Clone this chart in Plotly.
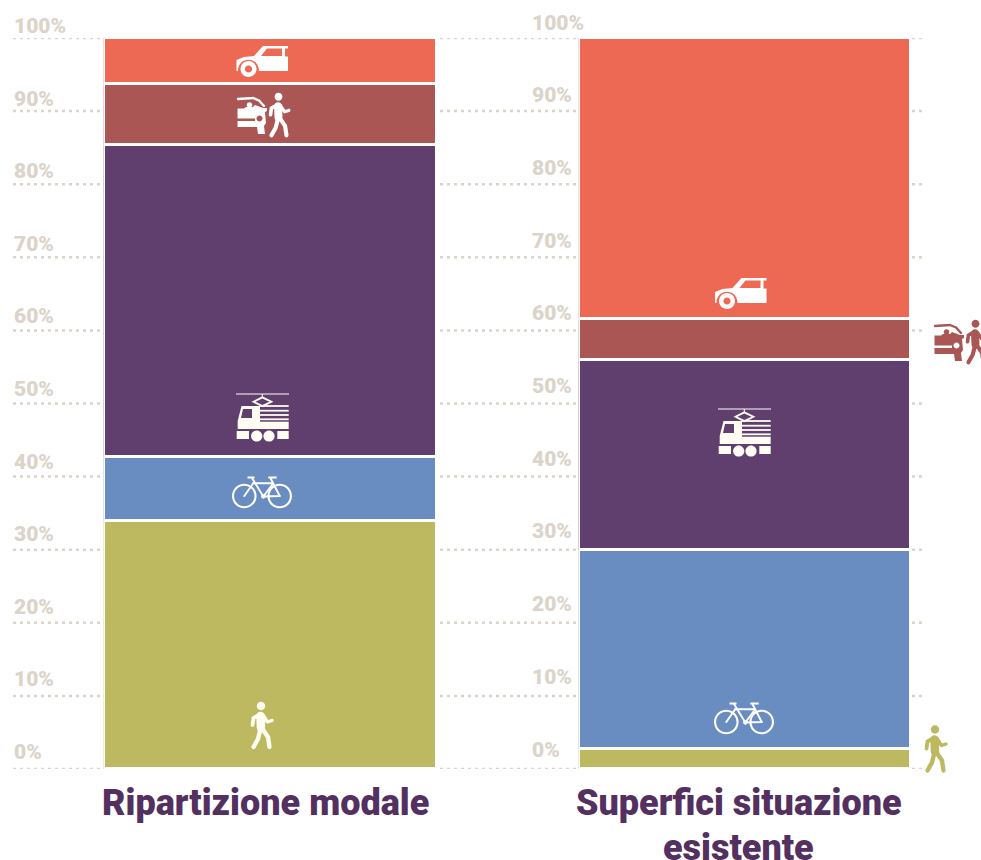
import math
import plotly.graph_objects as go

# ---------- data ----------
CHARTS = ["Ripartizione modale", "Superfici situazione esistente"]
TITLE_LINES = [["Ripartizione modale"], ["Superfici situazione", "esistente"]]
MODES = ["A piedi", "Bicicletta", "Trasporto pubblico", "Auto + a piedi", "Auto"]
RIPARTIZIONE = [33.9, 8.8, 42.7, 8.3, 6.3]
SUPERFICI = [2.8, 27.1, 26.1, 5.6, 38.4]
COLORS = ["#bcb961", "#698dc0", "#603f6f", "#aa5655", "#ee6953"]
TICKS = list(range(0, 101, 10))
TICK_LABELS = [f"{t}%" for t in TICKS]

# ---------- layout constants ----------
W, H = 981, 860
GRID = "#dbd4ca"
TITLE = "#53305f"
Y0, Y100 = 769.0, 38.0


def px(x):
    return x / W


def py(y):
    return 1 - y / H


fig = go.Figure()
for i, m in enumerate(MODES):
    fig.add_bar(x=[CHARTS[0]], y=[RIPARTIZIONE[i]], name=m, xaxis="x", yaxis="y",
                marker=dict(color=COLORS[i], line=dict(color="white", width=3)))
    fig.add_bar(x=[CHARTS[1]], y=[SUPERFICI[i]], name=m, xaxis="x2", yaxis="y2",
                marker=dict(color=COLORS[i], line=dict(color="white", width=3)))

shapes = []
annotations = []
for t, lab in zip(TICKS, TICK_LABELS):
    for a, b in [(13, 103), (440, 578), (912, 925)]:
        shapes.append(dict(type="line", xref="paper", yref="y", x0=px(a), x1=px(b), y0=t, y1=t,
                           layer="below", line=dict(color=GRID, width=2.5, dash="3px,4px")))
    k = t / 10
    for x, y in [(12, 752 - k * 72.6), (530, 749.5 - k * 72.7)]:
        annotations.append(dict(text=lab, xref="paper", yref="paper", x=px(x), y=py(y),
                                xanchor="left", yanchor="middle", showarrow=False,
                                font=dict(family="Roboto", size=21, color=GRID, weight=900)))

for cx, lines in zip((265, 738.5), TITLE_LINES):
    for j, line in enumerate(lines):
        annotations.append(dict(text=line, xref="paper", yref="paper", x=px(cx), y=py(803 + 45 * j),
                                xanchor="center", yanchor="middle", showarrow=False,
                                font=dict(family="Roboto", size=36, color=TITLE, weight=900)))


# ---------- icon geometry (decorative pictograms, local pixel units) ----------
def circle(cx, cy, r):
    c = 0.5523 * r
    return [("M", cx + r, cy), ("C", cx + r, cy + c, cx + c, cy + r, cx, cy + r),
            ("C", cx - c, cy + r, cx - r, cy + c, cx - r, cy),
            ("C", cx - r, cy - c, cx - c, cy - r, cx, cy - r),
            ("C", cx + c, cy - r, cx + r, cy - c, cx + r, cy), ("Z",)]


def poly(*pts):
    return [("M", *pts[0])] + [("L", *p) for p in pts[1:]] + [("Z",)]


def rect(x0, y0, x1, y1):
    return poly((x0, y0), (x0, y1), (x1, y1), (x1, y0))


def stroke(pts, w):
    out = []
    r = w / 2
    for (a, b), (c, d) in zip(pts[:-1], pts[1:]):
        L = math.hypot(c - a, d - b) or 1
        nx, ny = -(d - b) / L * r, (c - a) / L * r
        out += poly((a - nx, b - ny), (c - nx, d - ny), (c + nx, d + ny), (a + nx, b + ny))
    for p in pts:
        out += circle(p[0], p[1], r)
    return out


def to_path(cmds, ox, oy, s=1.0):
    parts = []
    for c in cmds:
        if c[0] == "Z":
            parts.append("Z")
        else:
            v = c[1:]
            xy = []
            for j in range(0, len(v), 2):
                xy.append(f"{px(ox + v[j] * s):.5f},{py(oy + v[j + 1] * s):.5f}")
            parts.append(c[0] + " " + " ".join(xy))
    return " ".join(parts)


def add(cmds, ox, oy, color, rule="evenodd", s=1.0):
    shapes.append(dict(type="path", xref="paper", yref="paper", path=to_path(cmds, ox, oy, s),
                       fillcolor=color, fillrule=rule, line=dict(width=0), layer="above"))


def car(ox, oy, color):
    body = [("M", 0.5, 15), ("L", 8, 12), ("L", 18, 11), ("L", 27, 1), ("L", 52, 1), ("L", 52, 3.5),
            ("L", 49, 3.5), ("L", 49, 11.5), ("L", 52, 11.5), ("L", 52, 26), ("L", 23, 26),
            ("C", 23, 11, 2, 11, 2, 26), ("L", 0.5, 26), ("Z",)]
    body += poly((25, 11), (31, 3.5), (46, 3.5), (46, 11))
    add(body, ox, oy, color)
    add(circle(12.5, 24, 8) + circle(12.5, 24, 3.6), ox, oy, color)


def walker(ox, oy, color, s=1.0):
    add(circle(0, 0, 4.2), ox, oy, color, s=s)
    add(stroke([(-0.5, 10), (0, 22)], 8.5), ox, oy, color, "nonzero", s)
    add(stroke([(-2, 9), (-7.5, 12), (-8.5, 19)], 3.8), ox, oy, color, "nonzero", s)
    add(stroke([(2, 9), (6.5, 16), (11, 14.5)], 3.4), ox, oy, color, "nonzero", s)
    add(stroke([(-0.5, 23), (-3, 33), (-7.5, 41)], 4.4), ox, oy, color, "nonzero", s)
    add(stroke([(1.5, 23), (7, 31), (8.5, 41)], 4.4), ox, oy, color, "nonzero", s)


def car_walk(ox, oy, color):
    add(stroke([(1, 6), (16, 5), (22, 7.5), (27, 13)], 2.4), ox, oy, color, "nonzero")
    add(circle(12.5, 12, 2.8), ox, oy, color)
    top = [("M", 0.5, 15.5), ("L", 7, 15.5), ("L", 9, 14), ("L", 16, 14), ("L", 18, 12), ("L", 26, 15),
           ("L", 30, 15), ("L", 30, 18), ("L", 28, 19), ("L", 29, 30), ("L", 27, 33), ("L", 28, 41),
           ("L", 21, 41), ("L", 20, 34), ("L", 0.5, 34), ("L", 0.5, 28), ("L", 18, 28), ("L", 18, 25.5),
           ("L", 0.5, 25.5), ("Z",)]
    top += circle(22.5, 25.5, 3)
    add(top, ox, oy, color)
    walker(ox + 41.5, oy + 3.8, color, 0.94)


def train(ox, oy, color):
    add(rect(0, 0.5, 53, 1.5), ox, oy, color)
    add(rect(25.8, 1, 26.8, 4), ox, oy, color)
    add(poly((15.5, 8.7), (26.3, 3.2), (37.5, 8.7), (26.3, 14.2)) +
        poly((19.5, 8.7), (26.3, 5.4), (33.5, 8.7), (26.3, 12)), ox, oy, color)
    add(poly((5.5, 13), (24, 13), (24, 36), (1.7, 36), (1.7, 28)) +
        poly((7, 16), (16, 16), (16, 25), (5, 25)), ox, oy, color)
    for y in (13, 17.7, 22, 26.3):
        add(rect(24, y - 0.9, 52.7, y + 0.9), ox, oy, color)
    add(rect(24, 28.7, 52.7, 36), ox, oy, color)
    add(rect(0.7, 38, 13, 46), ox, oy, color)
    add(rect(41.3, 38, 52.7, 46), ox, oy, color)
    add(circle(20.7, 43, 5.6), ox, oy, color)
    add(circle(33, 43, 5.6), ox, oy, color)


def bike(ox, oy, color):
    for cx in (12.3, 47.7):
        add(circle(cx, 20.5, 12.3) + circle(cx, 20.5, 10.2), ox, oy, color)
    frame = [
        [(20.3, 3), (31.3, 21)], [(38.7, 3), (47.7, 20.5)], [(21.3, 7.8), (40.7, 7.8)],
        [(40.7, 8.5), (31.3, 21)], [(21, 8), (12.3, 20.5)], [(31.3, 21), (47.7, 20.5)],
    ]
    for seg in frame:
        add(stroke(seg, 1.9), ox, oy, color, "nonzero")
    add(circle(31.3, 21, 2.2), ox, oy, color)
    add(rect(15.5, 1, 22.5, 3), ox, oy, color)
    add(rect(36.3, 1, 44.7, 3), ox, oy, color)


WHITE = "#ffffff"
CREAM = "#fffdf2"
car(236, 45, WHITE)
car_walk(237, 93, WHITE)
train(236, 393, CREAM)
bike(232, 475.5, WHITE)
walker(261, 706, CREAM)

car(714.5, 277, WHITE)
car_walk(934, 320, COLORS[3])
train(718, 408, CREAM)
bike(714, 701.5, WHITE)
walker(935, 729.5, COLORS[0])

axis_y = dict(range=[0, 100], visible=False, automargin=False, domain=[py(Y0), py(Y100)])
axis_x = dict(visible=False, automargin=False)

fig.update_layout(
    width=W, height=H, margin=dict(l=0, r=0, t=0, b=0), autosize=False,
    barmode="stack", bargap=0, showlegend=False,
    paper_bgcolor="white", plot_bgcolor="rgba(0,0,0,0)",
    xaxis={**axis_x, "domain": [px(103.5), px(436.5)], "anchor": "y"},
    xaxis2={**axis_x, "domain": [px(578.5), px(910.5)], "anchor": "y2"},
    yaxis=axis_y, yaxis2={**axis_y, "anchor": "x2"},
    shapes=shapes, annotations=annotations,
)
fig.write_html("out.html", config=dict(displayModeBar=False),
               post_script="document.body.style.margin='0';document.documentElement.style.overflow='hidden';")
